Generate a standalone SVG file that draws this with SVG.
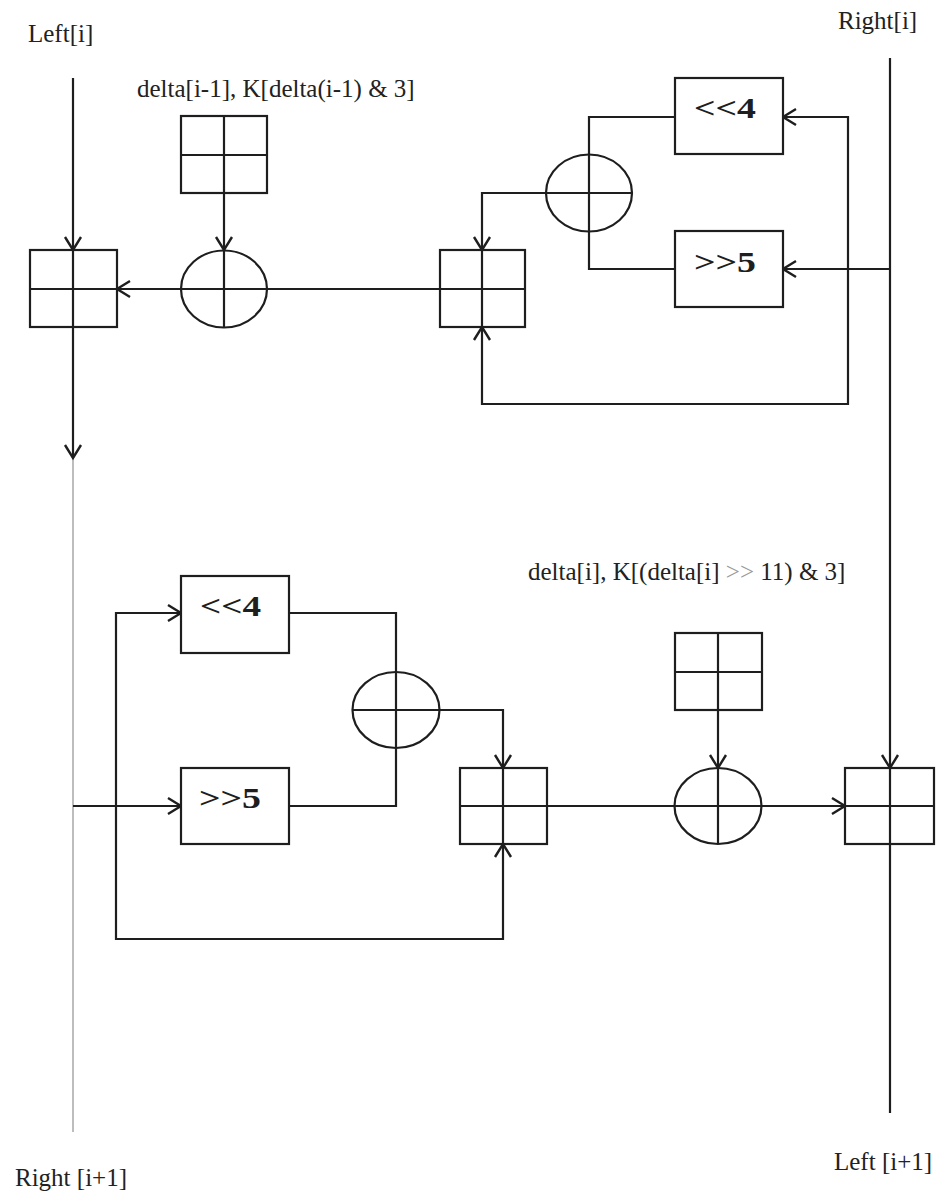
<svg xmlns="http://www.w3.org/2000/svg" width="940" height="1194" viewBox="0 0 940 1194">
<style>
.ln{fill:none;stroke:#1e1e1e;stroke-width:2.2}
.thin{fill:none;stroke:#9a9a9a;stroke-width:1.3}
.bx{fill:#fff;stroke:#1e1e1e;stroke-width:2.2}
.lbl{font-family:"Liberation Serif","Times New Roman",serif;font-size:25px;fill:#222}
.op{font-family:"Liberation Serif","Times New Roman",serif;font-size:30px;font-weight:bold;fill:#1e1e1e}
.arr{marker-end:url(#ah)}
</style>
<defs>
<marker id="ah" markerUnits="userSpaceOnUse" markerWidth="18" markerHeight="20" viewBox="0 0 18 20" refX="15" refY="10" orient="auto">
<path d="M2,2 L15,10 L2,18" fill="none" stroke="#1e1e1e" stroke-width="2.4"/>
</marker>
</defs>
<rect width="940" height="1194" fill="#fff"/>

<g id="labels">
<text class="lbl" x="28" y="42">Left[i]</text>
<text class="lbl" x="838" y="29">Right[i]</text>
<text class="lbl" x="137" y="97">delta[i-1], K[delta(i-1) &amp; 3]</text>
<text class="lbl" x="528" y="580">delta[i], K[(delta[i] <tspan fill="#9a9a9a">&gt;&gt;</tspan> 11) &amp; 3]</text>
<text class="lbl" x="15" y="1186">Right [i+1]</text>
<text class="lbl" x="834" y="1170">Left [i+1]</text>
</g>

<g id="connectors">
<line class="thin" x1="73" y1="458" x2="73" y2="1132"/>
<line class="ln arr" x1="73" y1="78" x2="73" y2="250"/>
<line class="ln arr" x1="73" y1="327" x2="73" y2="458"/>
<line class="ln arr" x1="224" y1="193" x2="224" y2="250"/>
<line class="ln arr" x1="181" y1="289" x2="117" y2="289"/>
<line class="ln" x1="267" y1="289" x2="440" y2="289"/>
<path class="ln" d="M675,117 H589 V269 H675"/>
<path class="ln arr" d="M546,193 H482 V250"/>
<line class="ln arr" x1="890" y1="58" x2="890" y2="768"/>
<line class="ln" x1="890" y1="844" x2="890" y2="1113"/>
<line class="ln arr" x1="890" y1="269" x2="783" y2="269"/>
<path class="ln arr" d="M848,269 V117 H783"/>
<path class="ln arr" d="M848,269 V404 H482 V327"/>

<line class="ln arr" x1="73" y1="806" x2="181" y2="806"/>
<path class="ln arr" d="M116,806 V613 H181"/>
<path class="ln arr" d="M116,806 V939 H503 V844"/>
<path class="ln" d="M289,613 H396 V806 H289"/>
<path class="ln arr" d="M439,710 H503 V768"/>
<line class="ln" x1="547" y1="806" x2="675" y2="806"/>
<line class="ln arr" x1="718" y1="710" x2="718" y2="768"/>
<line class="ln arr" x1="762" y1="806" x2="845" y2="806"/>
</g>

<g id="adder-left-top">
<rect class="bx" x="30" y="250" width="87" height="77"/>
<path class="ln" d="M30,289 H117 M73,250 V327"/>
</g>
<g id="key-top">
<rect class="bx" x="181" y="116" width="86" height="77"/>
<path class="ln" d="M181,155 H267 M224,116 V193"/>
</g>
<g id="xor-top-left">
<ellipse class="bx" cx="224" cy="289" rx="43" ry="38.5"/>
<path class="ln" d="M181,289 H267 M224,250.5 V327.5"/>
</g>
<g id="adder-mid-top">
<rect class="bx" x="440" y="250" width="85" height="77"/>
<path class="ln" d="M440,289 H525 M482,250 V327"/>
</g>
<g id="xor-top-right">
<ellipse class="bx" cx="589" cy="193" rx="43" ry="38.5"/>
<path class="ln" d="M546,193 H632 M589,154.5 V231.5"/>
</g>
<g id="shl-top">
<rect class="bx" x="675" y="78" width="108" height="76"/>
<text class="op" x="694" y="118" textLength="62" lengthAdjust="spacingAndGlyphs">&lt;&lt;4</text>
</g>
<g id="shr-top">
<rect class="bx" x="675" y="231" width="108" height="76"/>
<text class="op" x="694" y="272" textLength="62" lengthAdjust="spacingAndGlyphs">&gt;&gt;5</text>
</g>

<g id="shl-bottom">
<rect class="bx" x="181" y="576" width="108" height="77"/>
<text class="op" x="200" y="616" textLength="61" lengthAdjust="spacingAndGlyphs">&lt;&lt;4</text>
</g>
<g id="shr-bottom">
<rect class="bx" x="181" y="768" width="108" height="76"/>
<text class="op" x="199" y="808" textLength="62" lengthAdjust="spacingAndGlyphs">&gt;&gt;5</text>
</g>
<g id="xor-bottom-left">
<ellipse class="bx" cx="396" cy="710" rx="43.5" ry="38"/>
<path class="ln" d="M352.5,710 H439.5 M396,672 V748"/>
</g>
<g id="adder-mid-bottom">
<rect class="bx" x="460" y="768" width="87" height="76"/>
<path class="ln" d="M460,806 H547 M503,768 V844"/>
</g>
<g id="key-bottom">
<rect class="bx" x="675" y="633" width="87" height="77"/>
<path class="ln" d="M675,672 H762 M718,633 V710"/>
</g>
<g id="xor-bottom-right">
<ellipse class="bx" cx="718" cy="806" rx="43.5" ry="38"/>
<path class="ln" d="M674.5,806 H761.5 M718,768 V844"/>
</g>
<g id="adder-right-bottom">
<rect class="bx" x="845" y="768" width="89" height="76"/>
<path class="ln" d="M845,806 H934 M890,768 V844"/>
</g>
</svg>
